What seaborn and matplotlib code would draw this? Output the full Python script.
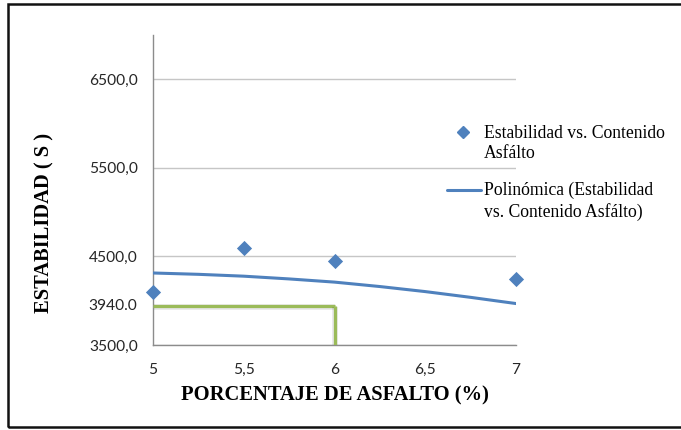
import numpy as np
import pandas as pd
import seaborn as sns
import matplotlib.pyplot as plt
from matplotlib.lines import Line2D
from matplotlib.patches import Rectangle
import matplotlib.patheffects as pe

# Measured stability for each asphalt content
asphalt_pct = [5.0, 5.5, 6.0, 7.0]
stability = [4103, 4595, 4443, 4244]

# Polynomial trend line (sampled)
trend_x = [5.0, 5.25, 5.5, 5.75, 6.0, 6.25, 6.5, 6.75, 7.0]
trend_y = [4313, 4298, 4277, 4246, 4210, 4160, 4103, 4038, 3968]

# Design point read from the trend
design_pct = 6.0
design_stability = 3940.0
design_label = "3940.0"

x_ticks = [5, 5.5, 6, 6.5, 7]
x_tick_labels = ["5", "5,5", "6", "6,5", "7"]
y_ticks = [3500, 4500, 5500, 6500]
y_tick_labels = ["3500,0", "4500,0", "5500,0", "6500,0"]
x_range = (5, 7)
y_range = (3500, 7000)

series_label = "Estabilidad vs. Contenido\nAsfálto"
trend_label = "Polinómica (Estabilidad\nvs. Contenido Asfálto)"
x_title = "PORCENTAJE DE ASFALTO (%)"
y_title = "ESTABILIDAD ( S )"

BLUE = "#4F81BD"
GREEN = "#9BBB59"
GRID = "#C6C6C6"
AXIS = "#8C8C8C"
TICK_TEXT = "#262626"
SERIF = ["Liberation Serif", "DejaVu Serif"]

W, H = 681, 430
sns.set_theme(style="white")
plt.rcParams["font.family"] = ["Lato", "DejaVu Sans"]

fig = plt.figure(figsize=(W / 100, H / 100), dpi=100)
ax = fig.add_axes([153 / W, 1 - 345 / H, 363 / W, 310 / H])

points = pd.DataFrame({"pct": asphalt_pct, "stab": stability})
trend = pd.DataFrame({"pct": trend_x, "stab": trend_y})

# Reference lines to the design point
ref_fx = [pe.SimpleLineShadow(offset=(0.6, -1.0), alpha=0.10, shadow_color="black",
                              linewidth=4.0),
          pe.Normal()]
ax.plot([x_range[0], design_pct], [design_stability, design_stability],
        color=GREEN, lw=2.3, zorder=3, path_effects=ref_fx, solid_capstyle="butt")
ax.plot([design_pct, design_pct], [design_stability, y_range[0]],
        color=GREEN, lw=2.3, zorder=3, path_effects=ref_fx, solid_capstyle="butt")

sns.lineplot(data=trend, x="pct", y="stab", color=BLUE, lw=2.2, ax=ax,
             zorder=4, legend=False)
sns.scatterplot(data=points, x="pct", y="stab", marker="D", s=60, color=BLUE,
                edgecolor=BLUE, linewidth=0, ax=ax, zorder=5, clip_on=False,
                legend=False)

ax.set_xlim(*x_range)
ax.set_ylim(*y_range)
ax.set_xticks(x_ticks)
ax.set_xticklabels(x_tick_labels)
ax.set_yticks(y_ticks)
ax.set_yticklabels(y_tick_labels)
ax.set_xlabel("")
ax.set_ylabel("")

ax.yaxis.grid(True, color=GRID, lw=1.0)
ax.xaxis.grid(False)
ax.set_axisbelow(True)
for side in ("top", "right"):
    ax.spines[side].set_visible(False)
for side in ("left", "bottom"):
    ax.spines[side].set_color(AXIS)
    ax.spines[side].set_linewidth(1.0)

ax.tick_params(axis="both", which="major", direction="out", length=4.5,
               width=0.8, color=AXIS, labelsize=11.2, labelcolor=TICK_TEXT)
ax.tick_params(axis="y", pad=6.5)
ax.tick_params(axis="x", pad=8.5)

# Label for the design stability on the value axis
ax.text(-0.045, design_stability, design_label, transform=ax.get_yaxis_transform(),
        ha="right", va="center", fontsize=11.2, color=TICK_TEXT)

# Axis titles
fig.text(334.5 / W, 1 - 395 / H, x_title, ha="center", va="center",
         family=SERIF, fontweight="bold", fontsize=14.8, color="black")
fig.text(44 / W, 1 - 223 / H, y_title, ha="center", va="center", rotation=90,
         family=SERIF, fontweight="bold", fontsize=14.8, color="black")

# Legend
fig.add_artist(Line2D([463 / W], [1 - 132 / H], marker="D", ms=6.5, color=BLUE,
                      mec=BLUE, lw=0, transform=fig.transFigure))
fig.text(484 / W, 1 - 125 / H, series_label, ha="left", va="top",
         family=SERIF, fontsize=12.7, linespacing=1.25, color="black")
fig.add_artist(Line2D([447 / W, 481 / W], [1 - 190 / H, 1 - 190 / H], color=BLUE,
                      lw=2.2, transform=fig.transFigure))
fig.text(484 / W, 1 - 182 / H, trend_label, ha="left", va="top",
         family=SERIF, fontsize=12.7, linespacing=1.25, color="black")

# Chart frame
fig.add_artist(Rectangle((8 / W, 1 - 427 / H), 700 / W, 423 / H, fill=False,
                         edgecolor="#111111", lw=1.8, transform=fig.transFigure))

fig.savefig("out.png", dpi=100, facecolor="white")
